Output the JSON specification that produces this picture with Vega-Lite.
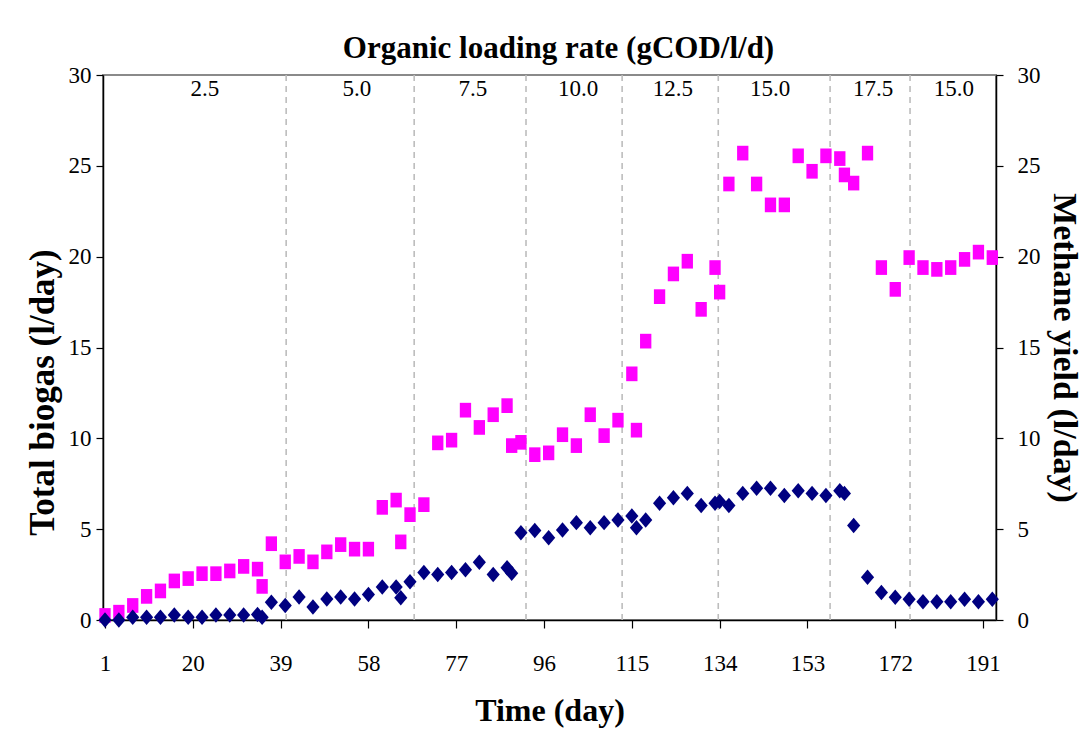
{
  "$schema": "https://vega.github.io/schema/vega-lite/v6.json",
  "width": 893,
  "height": 545,
  "autosize": {"type": "none"},
  "padding": {"left": 103, "top": 75, "right": 95, "bottom": 120},
  "background": "white",
  "config": {
    "view": {"stroke": "#8a8a8a", "strokeWidth": 2},
    "font": "Liberation Serif",
    "axis": {"labelFont": "Liberation Serif", "titleFont": "Liberation Serif", "labelColor": "black", "titleColor": "black", "domainColor": "black", "tickColor": "black", "domainWidth": 1.5, "tickWidth": 1.2, "grid": false}
  },
  "title": {"text": "Organic loading rate (gCOD/l/d)", "font": "Liberation Serif", "fontSize": 31, "fontWeight": "bold", "color": "black", "frame": "group", "anchor": "middle", "baseline": "bottom", "offset": -32, "dx": 9},
  "datasets": {
    "gas": [
      {"day": 1, "biogas": 0.25, "methane": 0.0},
      {"day": 4, "biogas": 0.43, "methane": 0.0},
      {"day": 7, "biogas": 0.8, "methane": 0.15},
      {"day": 10, "biogas": 1.3, "methane": 0.15},
      {"day": 13, "biogas": 1.6, "methane": 0.15},
      {"day": 16, "biogas": 2.15, "methane": 0.28},
      {"day": 19, "biogas": 2.28, "methane": 0.15},
      {"day": 22, "biogas": 2.55, "methane": 0.15},
      {"day": 25, "biogas": 2.55, "methane": 0.28},
      {"day": 28, "biogas": 2.7, "methane": 0.28},
      {"day": 31, "biogas": 2.95, "methane": 0.28},
      {"day": 34, "biogas": 2.8, "methane": 0.3},
      {"day": 35, "biogas": 1.85, "methane": 0.15},
      {"day": 37, "biogas": 4.2, "methane": 0.98},
      {"day": 40, "biogas": 3.2, "methane": 0.8},
      {"day": 43, "biogas": 3.5, "methane": 1.27},
      {"day": 46, "biogas": 3.2, "methane": 0.72},
      {"day": 49, "biogas": 3.75, "methane": 1.15},
      {"day": 52, "biogas": 4.15, "methane": 1.27},
      {"day": 55, "biogas": 3.9, "methane": 1.15},
      {"day": 58, "biogas": 3.9, "methane": 1.4},
      {"day": 61, "biogas": 6.2, "methane": 1.82},
      {"day": 64, "biogas": 6.6, "methane": 1.82},
      {"day": 65, "biogas": 4.3, "methane": 1.23},
      {"day": 67, "biogas": 5.8, "methane": 2.1},
      {"day": 70, "biogas": 6.35, "methane": 2.62},
      {"day": 73, "biogas": 9.75, "methane": 2.5},
      {"day": 76, "biogas": 9.9, "methane": 2.62},
      {"day": 79, "biogas": 11.55, "methane": 2.77},
      {"day": 82, "biogas": 10.6, "methane": 3.18},
      {"day": 85, "biogas": 11.3, "methane": 2.5},
      {"day": 88, "biogas": 11.8, "methane": 2.88},
      {"day": 89, "biogas": 9.6, "methane": 2.58},
      {"day": 91, "biogas": 9.78, "methane": 4.8},
      {"day": 94, "biogas": 9.1, "methane": 4.93},
      {"day": 97, "biogas": 9.2, "methane": 4.53},
      {"day": 100, "biogas": 10.2, "methane": 4.96},
      {"day": 103, "biogas": 9.6, "methane": 5.36},
      {"day": 106, "biogas": 11.3, "methane": 5.08},
      {"day": 109, "biogas": 10.15, "methane": 5.36},
      {"day": 112, "biogas": 11.0, "methane": 5.51},
      {"day": 115, "biogas": 13.55, "methane": 5.73},
      {"day": 116, "biogas": 10.45, "methane": 5.08},
      {"day": 118, "biogas": 15.35, "methane": 5.51},
      {"day": 121, "biogas": 17.8, "methane": 6.43},
      {"day": 124, "biogas": 19.05, "methane": 6.73},
      {"day": 127, "biogas": 19.75, "methane": 6.97},
      {"day": 130, "biogas": 17.1, "methane": 6.3},
      {"day": 133, "biogas": 19.4, "methane": 6.43},
      {"day": 134, "biogas": 18.05, "methane": 6.52},
      {"day": 136, "biogas": 24.0, "methane": 6.3},
      {"day": 139, "biogas": 25.7, "methane": 6.97},
      {"day": 142, "biogas": 24.0, "methane": 7.25},
      {"day": 145, "biogas": 22.85, "methane": 7.25},
      {"day": 148, "biogas": 22.85, "methane": 6.85},
      {"day": 151, "biogas": 25.55, "methane": 7.12},
      {"day": 154, "biogas": 24.7, "methane": 6.97},
      {"day": 157, "biogas": 25.55, "methane": 6.85},
      {"day": 160, "biogas": 25.4, "methane": 7.12},
      {"day": 161, "biogas": 24.5, "methane": 6.97},
      {"day": 163, "biogas": 24.05, "methane": 5.2},
      {"day": 166, "biogas": 25.7, "methane": 2.35},
      {"day": 169, "biogas": 19.4, "methane": 1.52},
      {"day": 172, "biogas": 18.2, "methane": 1.25},
      {"day": 175, "biogas": 19.95, "methane": 1.14},
      {"day": 178, "biogas": 19.4, "methane": 1.0},
      {"day": 181, "biogas": 19.3, "methane": 1.0},
      {"day": 184, "biogas": 19.4, "methane": 1.0},
      {"day": 187, "biogas": 19.85, "methane": 1.14},
      {"day": 190, "biogas": 20.25, "methane": 1.0},
      {"day": 193, "biogas": 19.95, "methane": 1.14}
    ],
    "breaks": [
      {"day": 40.2}, {"day": 67.9}, {"day": 92.1}, {"day": 112.9}, {"day": 133.7}, {"day": 157.9}, {"day": 175.2}
    ],
    "olr": [
      {"day": 22.6, "label": "2.5"},
      {"day": 55.5, "label": "5.0"},
      {"day": 80.6, "label": "7.5"},
      {"day": 103.4, "label": "10.0"},
      {"day": 123.9, "label": "12.5"},
      {"day": 144.9, "label": "15.0"},
      {"day": 167.2, "label": "17.5"},
      {"day": 184.7, "label": "15.0"}
    ]
  },
  "layer": [
    {
      "data": {"name": "breaks"},
      "mark": {"type": "rule", "color": "#bdbdbd", "strokeWidth": 1.6, "strokeDash": [6, 5]},
      "encoding": {
        "x": {"field": "day", "type": "quantitative", "scale": {"domain": [0.567, 193.8], "nice": false, "zero": false},
          "axis": {"values": [1, 20, 39, 58, 77, 96, 115, 134, 153, 172, 191], "title": "Time (day)", "labelFontSize": 23, "labelPadding": 24, "tickSize": 8, "titleFontSize": 32, "titleFontWeight": "bold", "titlePadding": 20, "labelFlush": false}}
      }
    },
    {
      "data": {"name": "olr"},
      "mark": {"type": "text", "fontSize": 23, "font": "Liberation Serif", "color": "black", "baseline": "middle", "align": "center", "dy": 14},
      "encoding": {
        "x": {"field": "day", "type": "quantitative"},
        "y": {"datum": 30, "type": "quantitative", "scale": {"domain": [0, 30], "nice": false}, "axis": null},
        "text": {"field": "label"}
      }
    },
    {
      "data": {"name": "gas"},
      "mark": {"type": "point", "filled": true, "opacity": 1, "color": "#ff00ff", "shape": "M-0.77,-1H0.77V1H-0.77Z", "size": 216},
      "encoding": {
        "x": {"field": "day", "type": "quantitative"},
        "y": {"field": "biogas", "type": "quantitative", "scale": {"domain": [0, 30], "nice": false},
          "axis": {"orient": "left", "values": [0, 5, 10, 15, 20, 25, 30], "title": "Total biogas (l/day)", "labelFontSize": 23, "labelPadding": 5, "tickSize": 7, "titleFontSize": 35, "titleFontWeight": "bold", "titlePadding": 8, "titleY": 317, "labelFlush": false}}
      }
    },
    {
      "data": {"name": "gas"},
      "mark": {"type": "point", "filled": true, "opacity": 1, "color": "#000080", "shape": "M0,-1L0.85,0L0,1L-0.85,0Z", "size": 240},
      "encoding": {
        "x": {"field": "day", "type": "quantitative"},
        "y": {"field": "methane", "type": "quantitative", "scale": {"domain": [0, 30], "nice": false},
          "axis": {"orient": "right", "values": [0, 5, 10, 15, 20, 25, 30], "title": "Methane yield (l/day)", "labelFontSize": 23, "labelPadding": 14, "tickSize": 7, "titleFontSize": 34, "titleFontWeight": "bold", "titlePadding": 6, "labelFlush": false}}
      }
    }
  ],
  "resolve": {"scale": {"y": "independent"}, "axis": {"y": "independent"}}
}
